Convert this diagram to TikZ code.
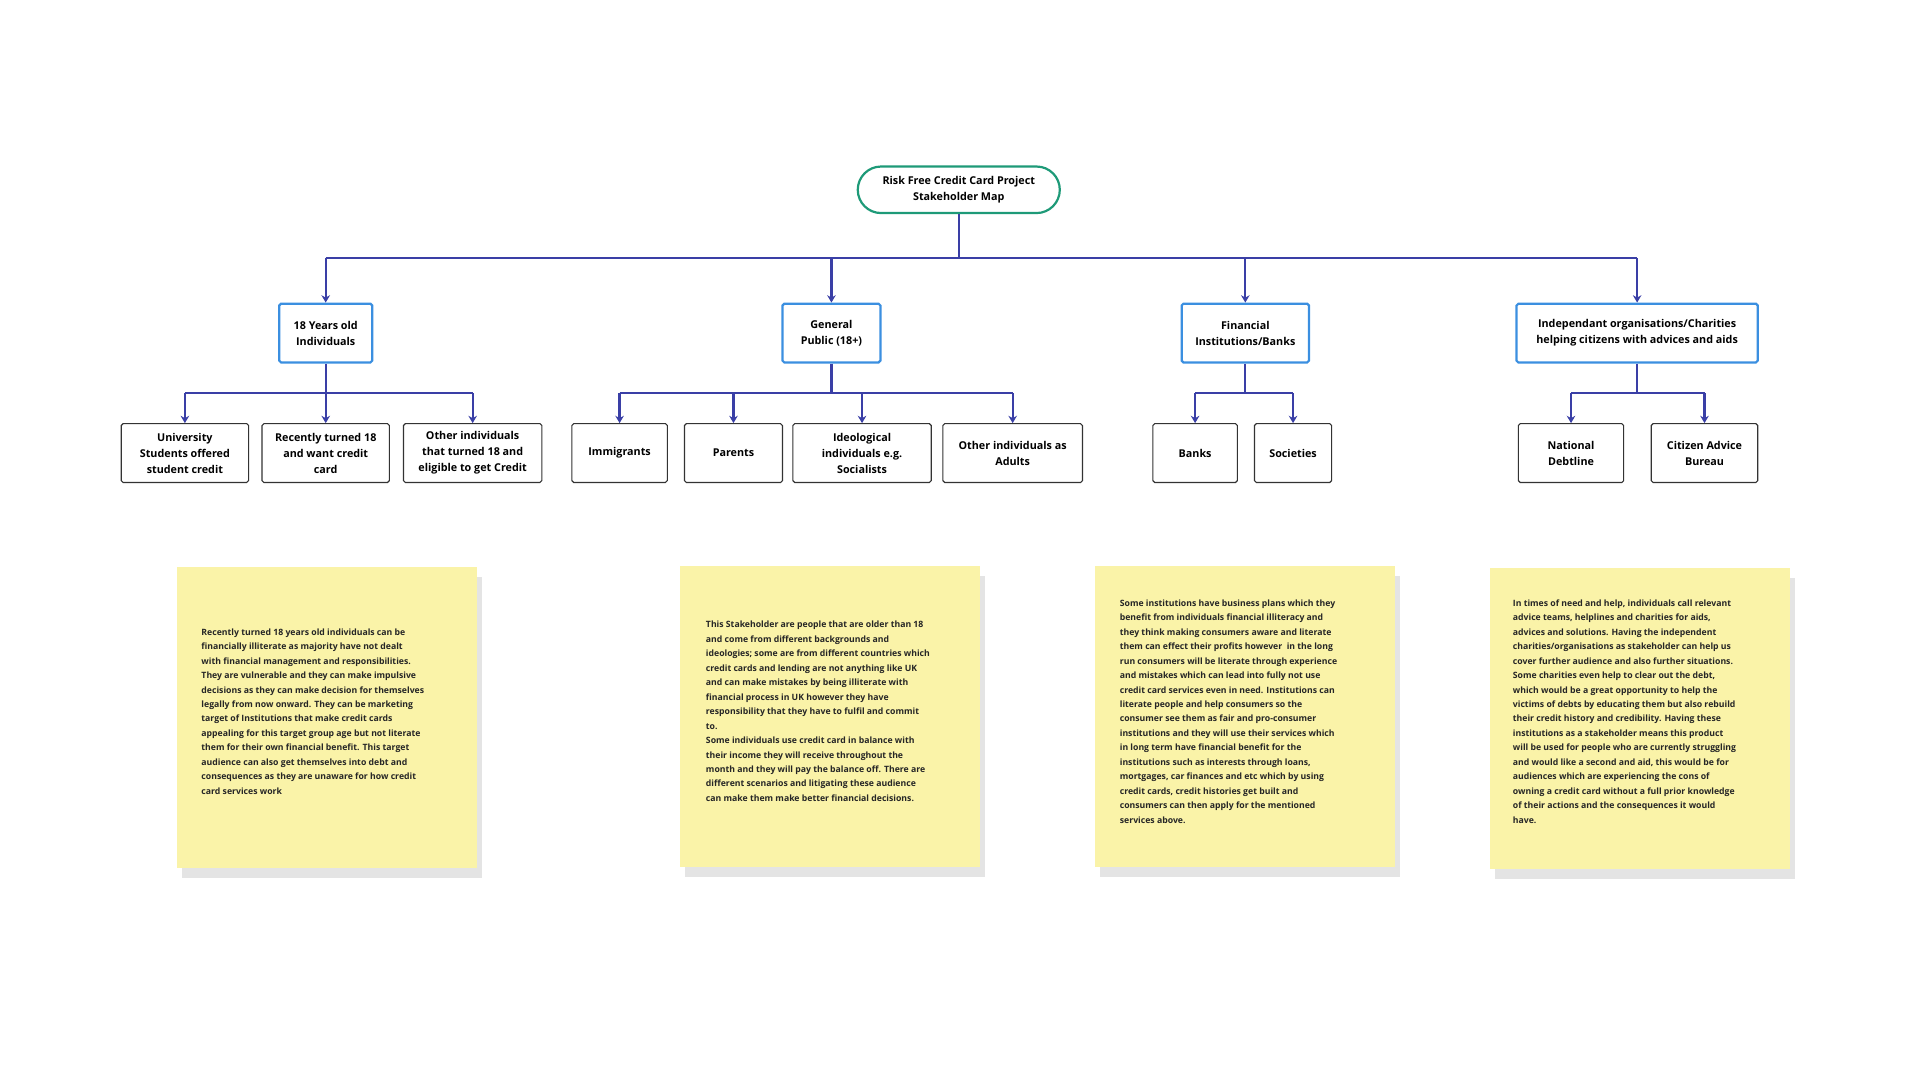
\documentclass[tikz,border=0pt]{standalone}
\usepackage{fontspec}
\setmainfont{Open Sans}
\usetikzlibrary{shadows,arrows.meta}
\definecolor{rootgreen}{HTML}{1E9A78}
\definecolor{groupblue}{HTML}{3B8FE0}
\definecolor{linkblue}{HTML}{3A3FA6}
\definecolor{notey}{HTML}{FAF3A8}
\begin{document}
\begin{tikzpicture}[x=1pt,y=-1pt,
    rootbox/.style = {draw=rootgreen, line width=1.8pt, rounded corners=19pt,
                minimum width=165pt, minimum height=38pt, align=center,
                font=\fontsize{8.8}{12.5}\selectfont\bfseries},
    groupbox/.style = {draw=groupblue, line width=1.8pt, rounded corners=1.5pt,
                minimum height=48pt, align=center, inner sep=2pt,
                font=\fontsize{8.8}{13}\selectfont\bfseries},
    leafbox/.style = {draw=black!80, line width=0.9pt, rounded corners=1.5pt,
                minimum height=48pt, align=center, inner sep=2pt,
                font=\fontsize{8.8}{13}\selectfont\bfseries},
    link/.style = {draw=linkblue, line width=1.8pt, -{Stealth[length=6pt,width=7pt]}},
    bus/.style = {draw=linkblue, line width=1.8pt},
    note/.style = {fill=notey, minimum width=245pt, minimum height=246pt,
                drop shadow={shadow xshift=4pt, shadow yshift=-8pt, opacity=.15, fill=black!70}},
    notetext/.style = {anchor=west, align=left,
                font=\fontsize{7.1}{11.8}\selectfont\bfseries, text=black!85}
                    ]
    \useasboundingbox (0,0) rectangle (1568,882);
    % top of the map
    \node[rootbox] at (783,155) (root) {Risk Free Credit Card Project\\Stakeholder Map};
    % first level
    \node[groupbox, minimum width=76pt] at (266,272) (young) {18 Years old\\Individuals};
    \node[groupbox, minimum width=80pt] at (679,272) (public) {General\\Public (18+)};
    \node[groupbox, minimum width=104pt] at (1017,272) (banks) {Financial\\Institutions/Banks};
    \node[groupbox, minimum width=197pt] at (1337,272) (charity) {Independant organisations/Charities\\helping citizens with advices and aids};
    \draw[bus] (root.south) -- (783,211);
    \draw[bus] (266,211) -- (1337,211);
    \foreach \n in {young,public,banks,charity}
        \draw[link] (\n.north |- 0,211) -- (\n.north);
    % second level
    \node[leafbox, minimum width=104pt] at (151,370) (uni) {University\\Students offered\\student credit};
    \node[leafbox, minimum width=104pt] at (266,370) (recent) {Recently turned 18\\and want credit\\card};
    \node[leafbox, minimum width=113pt] at (386,370) (other) {Other individuals\\that turned 18 and\\eligible to get Credit};
    \node[leafbox, minimum width=78pt] at (506,370) (immi) {Immigrants};
    \node[leafbox, minimum width=80pt] at (599,370) (parents) {Parents};
    \node[leafbox, minimum width=113pt] at (704,370) (ideo) {Ideological\\individuals e.g.\\Socialists};
    \node[leafbox, minimum width=114pt] at (827,370) (adults) {Other individuals as\\Adults};
    \node[leafbox, minimum width=69pt] at (976,370) (bank) {Banks};
    \node[leafbox, minimum width=63pt] at (1056,370) (soc) {Societies};
    \node[leafbox, minimum width=86pt] at (1283,370) (debt) {National\\Debtline};
    \node[leafbox, minimum width=87pt] at (1392,370) (cab) {Citizen Advice\\Bureau};
    \draw[bus] (young.south) -- (266,321);
    \draw[bus] (151,321) -- (386,321);
    \foreach \n in {uni,recent,other}
        \draw[link] (\n.north |- 0,321) -- (\n.north);
    \draw[bus] (public.south) -- (679,321);
    \draw[bus] (506,321) -- (827,321);
    \foreach \n in {immi,parents,ideo,adults}
        \draw[link] (\n.north |- 0,321) -- (\n.north);
    \draw[bus] (banks.south) -- (1017,321);
    \draw[bus] (976,321) -- (1056,321);
    \foreach \n in {bank,soc}
        \draw[link] (\n.north |- 0,321) -- (\n.north);
    \draw[bus] (charity.south) -- (1337,321);
    \draw[bus] (1283,321) -- (1392,321);
    \foreach \n in {debt,cab}
        \draw[link] (\n.north |- 0,321) -- (\n.north);
    % sticky notes
    \node[note] at (267,586) (noteA) {};
    \node[note] at (678,585) (noteB) {};
    \node[note] at (1017,585) (noteC) {};
    \node[note] at (1339,587) (noteD) {};
    \node[notetext] at (161,581) (textA) {Recently turned 18 years old individuals can be\\financially illiterate as majority have not dealt\\with financial management and responsibilities.\\They are vulnerable and they can make impulsive\\decisions as they can make decision for themselves\\legally from now onward. They can be marketing\\target of Institutions that make credit cards\\appealing for this target group age but not literate\\them for their own financial benefit. This target\\audience can also get themselves into debt and\\consequences as they are unaware for how credit\\card services work};
    \node[notetext] at (573,581) (textB) {This Stakeholder are people that are older than 18\\and come from different backgrounds and\\ideologies; some are from different countries which\\credit cards and lending are not anything like UK\\and can make mistakes by being illiterate with\\financial process in UK however they have\\responsibility that they have to fulfil and commit\\to.\\Some individuals use credit card in balance with\\their income they will receive throughout the\\month and they will pay the balance off. There are\\different scenarios and litigating these audience\\can make them make better financial decisions.};
    \node[notetext] at (911,581) (textC) {Some institutions have business plans which they\\benefit from individuals financial illiteracy and\\they think making consumers aware and literate\\them can effect their profits however \ in the long\\run consumers will be literate through experience\\and mistakes which can lead into fully not use\\credit card services even in need. Institutions can\\literate people and help consumers so the\\consumer see them as fair and pro-consumer\\institutions and they will use their services which\\in long term have financial benefit for the\\institutions such as interests through loans,\\mortgages, car finances and etc which by using\\credit cards, credit histories get built and\\consumers can then apply for the mentioned\\services above.};
    \node[notetext] at (1232,581) (textD) {In times of need and help, individuals call relevant\\advice teams, helplines and charities for aids,\\advices and solutions. Having the independent\\charities/organisations as stakeholder can help us\\cover further audience and also further situations.\\Some charities even help to clear out the debt,\\which would be a great opportunity to help the\\victims of debts by educating them but also rebuild\\their credit history and credibility. Having these\\institutions as a stakeholder means this product\\will be used for people who are currently struggling\\and would like a second and aid, this would be for\\audiences which are experiencing the cons of\\owning a credit card without a full prior knowledge\\of their actions and the consequences it would\\have.};
\end{tikzpicture}
\end{document}
